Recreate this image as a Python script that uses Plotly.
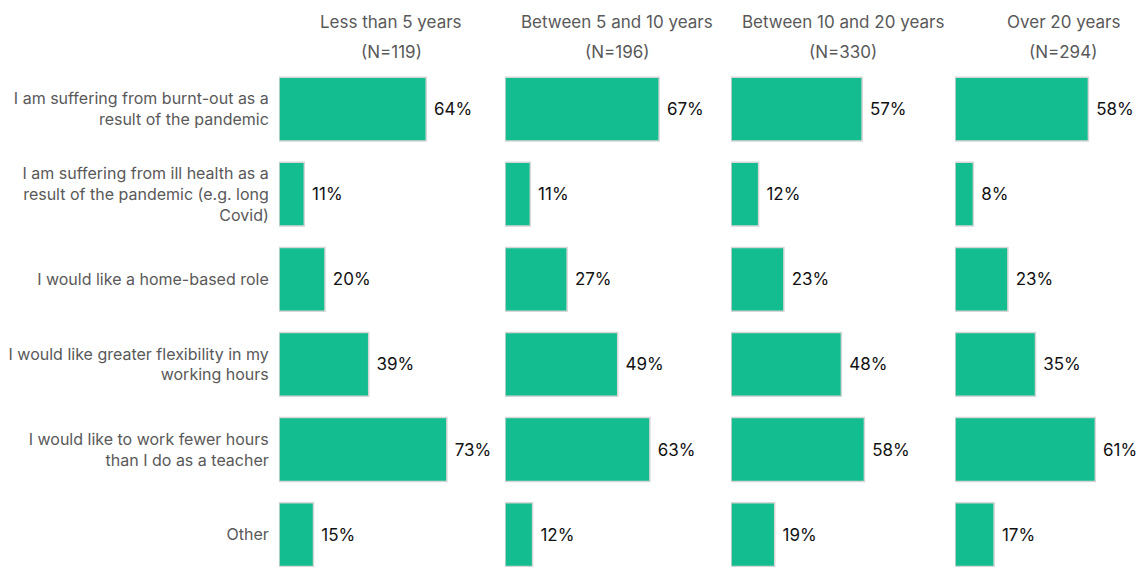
import plotly.graph_objects as go

categories = [
    "I am suffering from burnt-out as a<br>result of the pandemic",
    "I am suffering from ill health as a<br>result of the pandemic (e.g. long<br>Covid)",
    "I would like a home-based role",
    "I would like greater flexibility in my<br>working hours",
    "I would like to work fewer hours<br>than I do as a teacher",
    "Other",
]
groups = ["Less than 5 years", "Between 5 and 10 years", "Between 10 and 20 years", "Over 20 years"]
group_n = ["(N=119)", "(N=196)", "(N=330)", "(N=294)"]
values_lt5 = [64, 11, 20, 39, 73, 15]
values_5_10 = [67, 11, 27, 49, 63, 12]
values_10_20 = [57, 12, 23, 48, 58, 19]
values_gt20 = [58, 8, 23, 35, 61, 17]
series = [values_lt5, values_5_10, values_10_20, values_gt20]

W, H = 1137, 567
GREEN = "#13BD8F"
FONT = "Inter"
px_per_pct = 2.30
left_px = [279, 505, 731, 955]
panel_w = 225
centers_px = [391, 617, 843, 1063]

fig = go.Figure()
layout_axes = {}
for i, vals in enumerate(series):
    ax = "x" if i == 0 else f"x{i+1}"
    fig.add_trace(go.Bar(
        y=categories, x=vals, orientation="h", xaxis=ax, yaxis="y",
        marker=dict(color=GREEN, line=dict(color="#d6d6d6", width=1.5)),
        width=0.75,
        texttemplate=" %{x}%", textposition="outside",
        textfont=dict(color="#111111", size=17, family=FONT),
        cliponaxis=False, showlegend=False, hoverinfo="skip",
    ))
    l = left_px[i]
    r = min(l + panel_w, W)
    name = "xaxis" if i == 0 else f"xaxis{i+1}"
    layout_axes[name] = dict(
        domain=[l / W, r / W], range=[0, (r - l) / px_per_pct],
        showticklabels=False, zeroline=False, showline=False,
        showgrid=True, tickvals=[0], gridcolor="#dcdcdc", griddash="dash", gridwidth=1,
        anchor="y", fixedrange=True,
    )

top_px = 66.5
fig.update_layout(
    width=W, height=H,
    margin=dict(l=0, r=0, t=0, b=0),
    plot_bgcolor="white", paper_bgcolor="white",
    font=dict(family=FONT, color="#595959", size=16),
    bargap=0.25,
    yaxis=dict(
        domain=[0, 1 - top_px / H], anchor="x",
        categoryorder="array", categoryarray=categories,
        range=[5.38, -0.5], showgrid=False, zeroline=False, showline=False,
        ticks="outside", ticklen=6, tickcolor="rgba(0,0,0,0)",
        tickfont=dict(size=16, color="#595959", family=FONT),
        fixedrange=True,
    ),
    **layout_axes,
)

for i in range(4):
    fig.add_annotation(x=centers_px[i] / W, y=1 - 22 / H, xref="paper", yref="paper",
                       text=groups[i], showarrow=False, xanchor="center", yanchor="middle",
                       font=dict(size=17, color="#595959", family=FONT))
    fig.add_annotation(x=centers_px[i] / W, y=1 - 52 / H, xref="paper", yref="paper",
                       text=group_n[i], showarrow=False, xanchor="center", yanchor="middle",
                       font=dict(size=17, color="#595959", family=FONT))

fig.write_html("out.html", config={"displayModeBar": False},
               post_script="document.body.style.margin='0';document.body.style.overflow='hidden';")
